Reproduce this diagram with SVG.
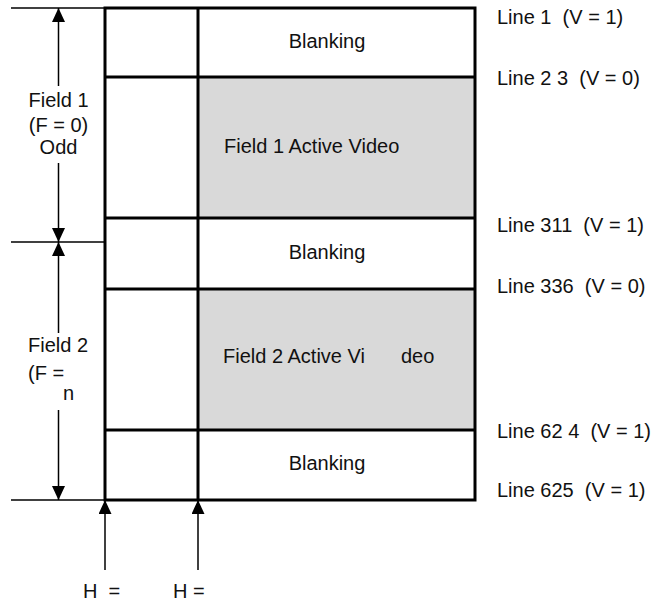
<svg xmlns="http://www.w3.org/2000/svg" width="652" height="603" viewBox="0 0 652 603">
<style>
text{font-family:"Liberation Sans",Arial,sans-serif;font-size:20px;fill:#111;white-space:pre}
.c{text-anchor:middle}
.frame{stroke:#000;stroke-width:3;fill:none}
.thin{stroke:#000;stroke-width:1.5;fill:none}
.gray{fill:#d9d9d9;stroke:none}
</style>
<defs>
<marker id="ah" viewBox="0 0 14 13" refX="14" refY="6.5" markerWidth="14" markerHeight="13" markerUnits="userSpaceOnUse" orient="auto">
<path d="M0,0 L14,6.5 L0,13 Z" fill="#000"/>
</marker>
</defs>
<g id="field1-active"><rect class="gray" x="198" y="77" width="277" height="141"/><text x="224" y="153">Field 1 Active Video</text></g>
<g id="field2-active"><rect class="gray" x="198" y="289" width="277" height="141"/><text x="223" y="363">Field 2 Active Vi<tspan x="401">deo</tspan></text></g>
<g id="blanking1"><text class="c" x="327" y="48">Blanking</text></g>
<g id="blanking2"><text class="c" x="327" y="259">Blanking</text></g>
<g id="blanking3"><text class="c" x="327" y="470">Blanking</text></g>
<g id="frame">
<rect class="frame" x="105" y="8" width="370" height="492"/>
<line class="frame" x1="198" y1="8" x2="198" y2="500"/>
<line class="frame" x1="105" y1="77" x2="475" y2="77"/>
<line class="frame" x1="105" y1="218" x2="475" y2="218"/>
<line class="frame" x1="105" y1="289" x2="475" y2="289"/>
<line class="frame" x1="105" y1="430" x2="475" y2="430"/>
</g>
<g id="connectors">
<line class="thin" x1="11" y1="8" x2="105" y2="8"/>
<line class="thin" x1="11" y1="242" x2="105" y2="242"/>
<line class="thin" x1="11" y1="500" x2="105" y2="500"/>
<line class="thin" x1="58.5" y1="86" x2="58.5" y2="8" marker-end="url(#ah)"/>
<line class="thin" x1="58.5" y1="163" x2="58.5" y2="242" marker-end="url(#ah)"/>
<line class="thin" x1="58.5" y1="333" x2="58.5" y2="242" marker-end="url(#ah)"/>
<line class="thin" x1="58.5" y1="410" x2="58.5" y2="500" marker-end="url(#ah)"/>
<line class="thin" x1="105" y1="570" x2="105" y2="500" marker-end="url(#ah)"/>
<line class="thin" x1="198" y1="570" x2="198" y2="500" marker-end="url(#ah)"/>
</g>
<g id="field1-label"><text class="c" x="58.5" y="107">Field 1</text><text class="c" x="58.5" y="132">(F = 0)</text><text class="c" x="58.5" y="154">Odd</text></g>
<g id="field2-label"><text x="28" y="352">Field 2</text><text x="28" y="380">(F =</text><text x="63" y="400">n</text></g>
<g id="line-labels">
<text x="497" y="24">Line 1  (V = 1)</text>
<text x="497" y="85">Line 2 3  (V = 0)</text>
<text x="497" y="232">Line 311  (V = 1)</text>
<text x="497" y="293">Line 336  (V = 0)</text>
<text x="497" y="438">Line 62 4  (V = 1)</text>
<text x="497" y="497">Line 625  (V = 1)</text>
</g>
<g id="h-labels"><text x="83" y="598">H  =</text><text x="173" y="598">H =</text></g>
</svg>
